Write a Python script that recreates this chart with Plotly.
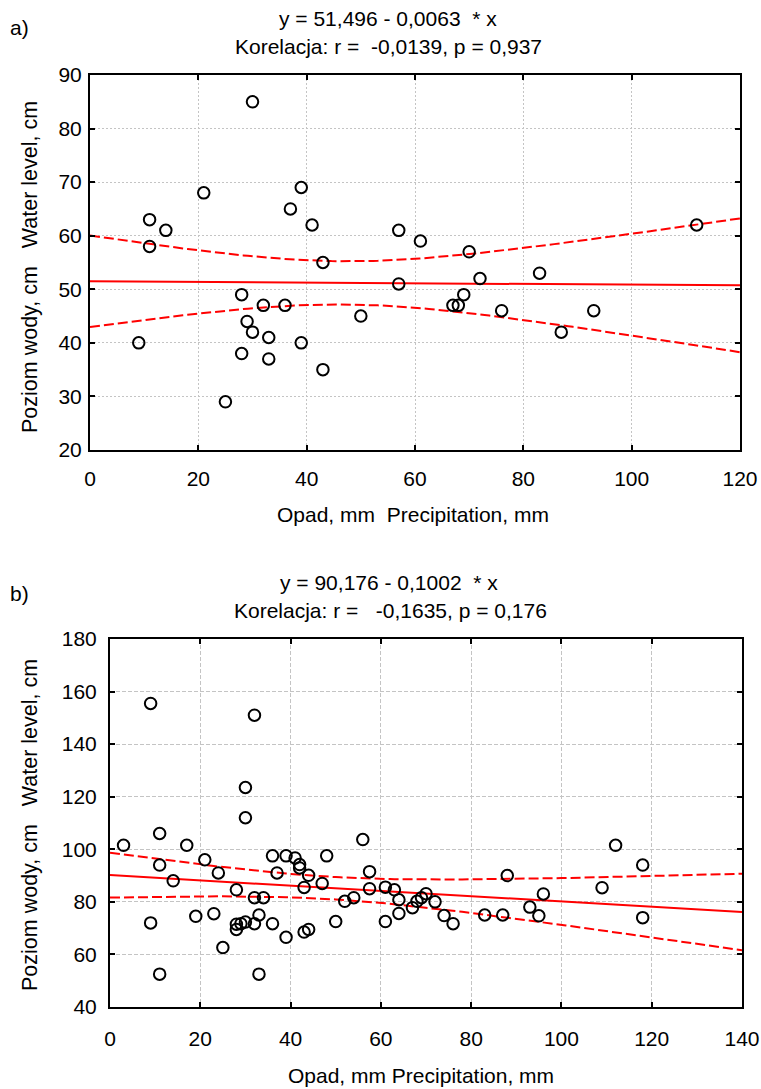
import numpy as np
import plotly.graph_objects as go

# ---------------- Data: panel a ----------------
a_precip = [30, 21, 39, 37, 41, 11, 14, 11, 57, 43, 57, 28, 32, 36, 50, 29, 30, 33,
            9, 39, 28, 33, 43, 25, 61, 70, 112, 83, 72, 69, 67, 68, 76, 93, 87]
a_level = [85, 68, 69, 65, 62, 63, 61, 58, 61, 55, 51, 49, 47, 47, 45, 44, 42, 41,
           40, 40, 38, 37, 35, 29, 59, 57, 62, 53, 52, 49, 47, 47, 46, 46, 42]
a_intercept, a_slope = 51.496, -0.0063
a_t = 2.035

# ---------------- Data: panel b ----------------
b_precip = [9, 32, 30, 30, 11, 3, 17, 21, 11, 24, 14, 36, 39, 41, 42, 42, 44, 48, 37,
            47, 43, 28, 32, 34, 52, 9, 19, 23, 28, 28, 29, 30, 32, 33, 36, 39, 25, 43,
            44, 50, 11, 33, 56, 57.5, 57.5, 54, 61, 63, 64, 64, 61, 67, 68, 69, 70, 72,
            74, 76, 83, 87, 88, 93, 95, 96, 109, 112, 118, 118]
b_level = [155.5, 151, 123.5, 112, 106, 101.5, 101.5, 96, 94, 91, 88, 97.5, 97.5, 96.7,
           94.2, 92.9, 90.1, 97.5, 91, 87, 85.5, 84.6, 81.6, 81.6, 80.2, 72, 74.5, 75.5,
           69.5, 71.5, 71.7, 72.3, 71.7, 75, 71.7, 66.5, 62.6, 68.5, 69.5, 72.5, 52.5,
           52.5, 103.7, 91.5, 85, 81.6, 85.6, 84.6, 80.8, 75.6, 72.5, 77.8, 80.2, 81.6,
           83.1, 80, 74.8, 71.7, 75, 75, 90, 78, 74.7, 83, 85.4, 101.5, 94, 74]
b_intercept, b_slope = 90.176, -0.1002
b_t = 1.997

a_title = ["y = 51,496 - 0,0063  * x", "Korelacja: r =  -0,0139, p = 0,937"]
b_title = ["y = 90,176 - 0,1002  * x", "Korelacja: r =   -0,1635, p = 0,176"]
x_title_a = "Opad, mm  Precipitation, mm"
x_title_b = "Opad, mm Precipitation, mm"
y_title = "Poziom wody, cm   Water level, cm"


def band(xs, ys, b0, b1, t, xmax):
    xs = np.asarray(xs, float)
    ys = np.asarray(ys, float)
    n = len(xs)
    resid = ys - (b0 + b1 * xs)
    s = np.sqrt(np.sum(resid ** 2) / (n - 2))
    mx = xs.mean()
    sxx = np.sum((xs - mx) ** 2)
    grid = np.linspace(0, xmax, 141)
    fit = b0 + b1 * grid
    hw = t * s * np.sqrt(1.0 / n + (grid - mx) ** 2 / sxx)
    return grid, fit, fit + hw, fit - hw


W, H = 761, 1089
FONT = "Liberation Sans, Arial, sans-serif"
RED = "#ff0000"


def fx(px):
    return px / W


def fy(py):
    return 1 - py / H


fig = go.Figure()

panels = [
    (a_precip, a_level, a_intercept, a_slope, a_t, 120, "x", "y"),
    (b_precip, b_level, b_intercept, b_slope, b_t, 140, "x2", "y2"),
]
for xs, ys, b0, b1, t, xmax, xa, ya in panels:
    g, fit, up, lo = band(xs, ys, b0, b1, t, xmax)
    fig.add_trace(go.Scatter(x=g, y=up, mode="lines", xaxis=xa, yaxis=ya,
                             line=dict(color=RED, width=2, dash="10px,4px"),
                             showlegend=False, hoverinfo="skip"))
    fig.add_trace(go.Scatter(x=g, y=lo, mode="lines", xaxis=xa, yaxis=ya,
                             line=dict(color=RED, width=2, dash="10px,4px"),
                             showlegend=False, hoverinfo="skip"))
    fig.add_trace(go.Scatter(x=[0, xmax], y=[b0, b0 + b1 * xmax], mode="lines",
                             xaxis=xa, yaxis=ya,
                             line=dict(color=RED, width=2),
                             showlegend=False, hoverinfo="skip"))
    fig.add_trace(go.Scatter(x=xs, y=ys, mode="markers", xaxis=xa, yaxis=ya,
                             marker=dict(symbol="circle-open", size=11.5, color="black",
                                         line=dict(width=2, color="black")),
                             showlegend=False))

axis_common = dict(showline=True, linecolor="black", linewidth=2, mirror="ticks",
                   ticks="inside", ticklen=5, tickwidth=1.5, tickcolor="black",
                   showgrid=True, gridcolor="#c4c4c4", gridwidth=1, zeroline=False,
                   tickfont=dict(family=FONT, size=21, color="black"))

fig.update_layout(
    width=W, height=H,
    margin=dict(l=0, r=0, t=0, b=0, pad=0, autoexpand=False),
    paper_bgcolor="white", plot_bgcolor="white",
    showlegend=False,
    xaxis=dict(domain=[fx(90), fx(740)], range=[0, 120], dtick=20, anchor="y",
               griddash="2px,2px", ticklabelstandoff=9, **axis_common),
    yaxis=dict(domain=[fy(450), fy(75)], range=[20, 90], dtick=10, anchor="x",
               griddash="2px,2px", ticklabelstandoff=2, **axis_common),
    xaxis2=dict(domain=[fx(110), fx(742)], range=[0, 140], dtick=20, anchor="y2",
                griddash="4px,2px", ticklabelstandoff=12, **axis_common),
    yaxis2=dict(domain=[fy(1007), fy(639)], range=[40, 180], dtick=20, anchor="x2",
                griddash="4px,2px", ticklabelstandoff=7, **axis_common),
)


def ann(text, px, py, size=21, angle=0):
    fig.add_annotation(text=text, x=fx(px), y=fy(py), xref="paper", yref="paper",
                       showarrow=False, xanchor="center", yanchor="middle",
                       textangle=angle, font=dict(family=FONT, size=size, color="black"))


ann(a_title[0], 388, 19)
ann(a_title[1], 388, 47)
ann("a)", 19, 27)
ann(x_title_a, 413, 514)
ann(y_title, 30, 267, size=21.5, angle=-90)

ann(b_title[0], 389, 582)
ann(b_title[1], 390, 610)
ann("b)", 19, 593)
ann(x_title_b, 421, 1075)
ann(y_title, 30, 825, size=21.5, angle=-90)

fig.write_html("out.html", config={"displayModeBar": False},
               post_script="document.body.style.margin='0';")
